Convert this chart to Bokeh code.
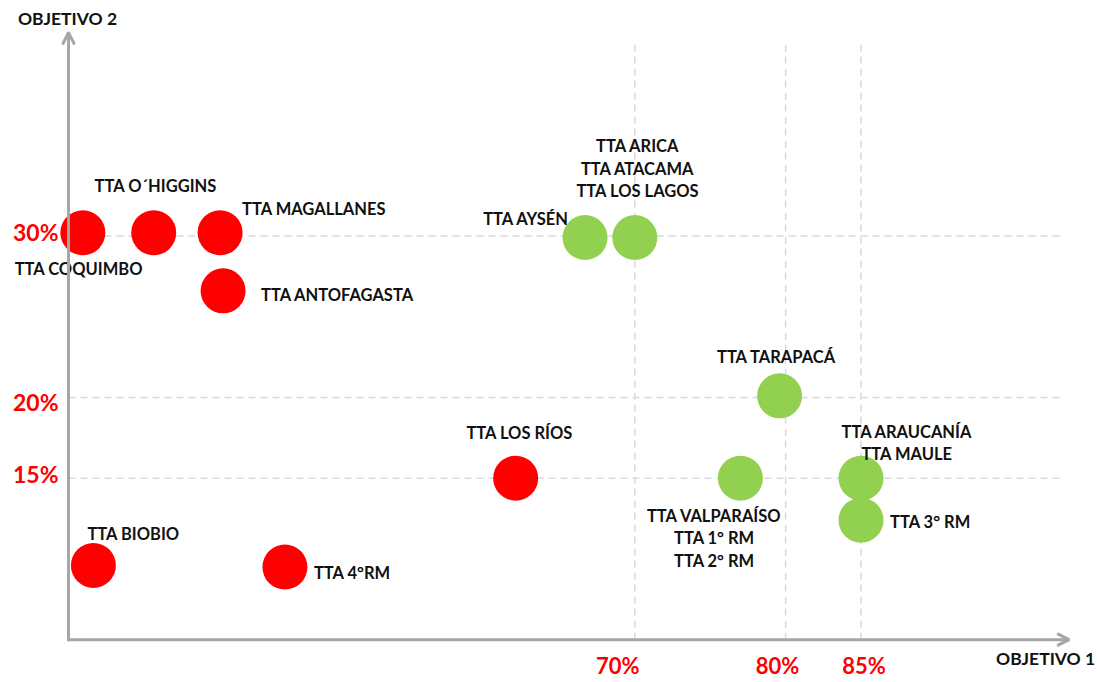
from bokeh.plotting import figure
from bokeh.models import ColumnDataSource, Arrow, OpenHead, Range1d
from bokeh.core.properties import value
from bokeh.embed import file_html
from bokeh.resources import INLINE

# ---------------- data (values in %) ----------------
names = [
    "TTA COQUIMBO", "TTA O´HIGGINS", "TTA MAGALLANES", "TTA ANTOFAGASTA",
    "TTA LOS RÍOS", "TTA BIOBIO", "TTA 4°RM",
    "TTA AYSÉN", "TTA ARICA\nTTA ATACAMA\nTTA LOS LAGOS", "TTA TARAPACÁ",
    "TTA VALPARAÍSO\nTTA 1° RM\nTTA 2° RM", "TTA ARAUCANÍA\nTTA MAULE", "TTA 3° RM",
]
objetivo1 = [33.4, 38.1, 42.5, 42.7, 62.1, 34.1, 46.8, 66.7, 70.0, 79.6, 77.0, 85.0, 85.0]
objetivo2 = [30.2, 30.2, 30.2, 26.6, 15.0, 9.6, 9.5, 29.9, 29.9, 20.1, 15.0, 15.0, 12.4]
cumple = [False] * 7 + [True] * 6

x_ticks = [70, 80, 85]
x_tick_labels = ["70%", "80%", "85%"]
y_ticks = [15, 20, 30]
y_tick_labels = ["15%", "20%", "30%"]

# axis extent (origin and arrow tips)
X0, X1 = 32.45, 98.8
Y0, Y1 = 5.0, 42.6
GRID_TOP, GRID_RIGHT = 42.1, 98.2

# ---------------- label placement (style, screen px) ----------------
lab_align = ["center", "center", "left", "left", "center", "left", "left",
             "right", "center", "center", "center", "center", "left"]
lab_dx = [-4, 2, 22, 38, 4, -6, 29, -16, 3, -3, -26, 46, 29]
lab_dy = [36, -47, -24, 4, -45, -31, 6, -19, -69, -39, 60, -35, 2]
xtick_dx = [-17, -8, 3]
ytick_dy = [-4, 5, -4]

RED, GREEN, GRAY, GRIDC = "#FF0000", "#92D050", "#A6A6A6", "#D9D9D9"
FONT = value("Lato")

p = figure(width=1097, height=682, output_backend="svg", toolbar_location=None,
           x_range=Range1d(27.94, 100.68), y_range=Range1d(2.35, 44.58),
           x_axis_location=None, y_axis_location=None, min_border=0,
           outline_line_color=None, background_fill_color="white")
p.grid.visible = False

# dashed reference lines
p.segment(x0=x_ticks, y0=[Y0] * len(x_ticks), x1=x_ticks, y1=[GRID_TOP] * len(x_ticks),
          line_color=GRIDC, line_width=1.5, line_dash="7 5")
p.segment(x0=[X0] * len(y_ticks), y0=y_ticks, x1=[GRID_RIGHT] * len(y_ticks), y1=y_ticks,
          line_color=GRIDC, line_width=1.5, line_dash="7 5")

# axes with arrows
for xs, ys, xe, ye in [(X0, Y0 - 0.09, X0, Y1), (X0 - 0.1, Y0, X1, Y0)]:
    p.add_layout(Arrow(x_start=xs, y_start=ys, x_end=xe, y_end=ye,
                       line_color=GRAY, line_width=3,
                       end=OpenHead(size=12, line_color=GRAY, line_width=3)))

# points
src = ColumnDataSource(dict(
    x=objetivo1, y=objetivo2, name=names,
    color=[GREEN if c else RED for c in cumple],
    align=lab_align, dx=lab_dx, dy=lab_dy,
))
p.scatter("x", "y", source=src, size=45, fill_color="color", line_color=None)
p.text("x", "y", text="name", source=src, x_offset="dx", y_offset="dy",
       text_align="align", text_baseline="middle", text_font=FONT,
       text_font_style="bold", text_font_size="16.5px", text_color="#111111",
       text_line_height=1.12)

# tick labels
p.text(x=[X0] * len(y_ticks), y=y_ticks, text=y_tick_labels, x_offset=-10, y_offset=ytick_dy,
       text_align="right", text_baseline="middle", text_font=FONT,
       text_font_style="bold", text_font_size="23px", text_color=RED)
p.text(x=x_ticks, y=[Y0] * len(x_ticks), text=x_tick_labels, x_offset=xtick_dx, y_offset=12,
       text_align="center", text_baseline="top", text_font=FONT,
       text_font_style="bold", text_font_size="22px", text_color=RED)

# axis titles
p.text(x=[X0], y=[Y1], text=["OBJETIVO 2"], x_offset=-1, y_offset=-14, text_align="center",
       text_baseline="middle", text_font=FONT, text_font_style="bold",
       text_font_size="17.5px", text_color="#111111")
p.text(x=[X1], y=[Y0], text=["OBJETIVO 1"], x_offset=26, y_offset=19, text_align="right",
       text_baseline="middle", text_font=FONT, text_font_style="bold",
       text_font_size="17.5px", text_color="#111111")

open("out.html", "w").write(file_html(p, INLINE))
